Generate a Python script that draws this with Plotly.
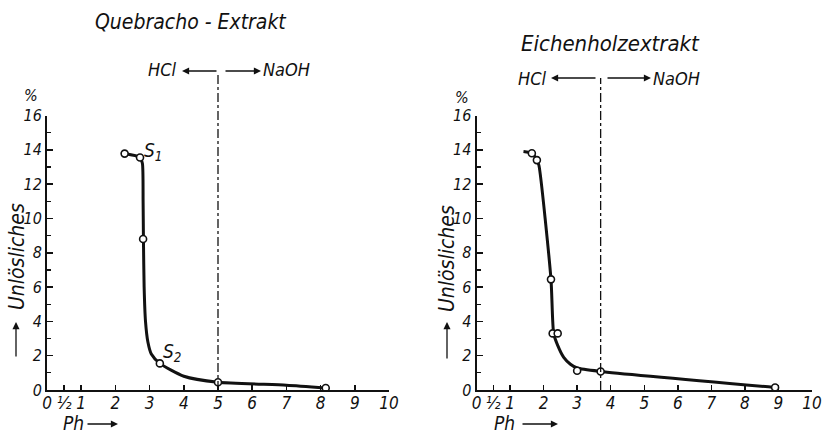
import plotly.graph_objects as go

# ---------------- data ----------------
quebracho_curve_ph = [2.27, 2.72, 2.79, 2.81, 2.82, 2.84, 2.88, 2.95, 3.05, 3.30, 4.0, 5.0, 7.0, 8.15]
quebracho_curve_pct = [13.78, 13.55, 13.2, 11.0, 8.8, 6.0, 4.0, 2.8, 2.1, 1.55, 0.8, 0.45, 0.28, 0.12]
quebracho_pts_ph = [2.27, 2.72, 2.81, 3.30, 5.0, 8.15]
quebracho_pts_pct = [13.78, 13.55, 8.8, 1.55, 0.45, 0.12]
quebracho_neutral_ph = 5.0

# Eichenholzextrakt
eiche_curve_ph = [1.40, 1.65, 1.80, 1.86, 2.22, 2.30, 2.42, 2.6, 2.8, 3.0, 3.7, 8.9]
eiche_curve_pct = [13.9, 13.8, 13.4, 13.1, 6.45, 3.3, 2.6, 1.9, 1.5, 1.28, 1.08, 0.15]
eiche_pts_ph = [1.65, 1.80, 2.22, 2.27, 2.42, 3.0, 3.7, 8.9]
eiche_pts_pct = [13.8, 13.4, 6.45, 3.3, 3.3, 1.12, 1.08, 0.15]
eiche_neutral_ph = 3.7

x_tickvals = [0, 0.5, 1, 2, 3, 4, 5, 6, 7, 8, 9, 10]
x_ticktext = ["0", "½", "1", "2", "3", "4", "5", "6", "7", "8", "9", "10"]
y_tickvals = [0, 2, 4, 6, 8, 10, 12, 14, 16]

# ---------------- layout helpers ----------------
W, H = 822, 433
def px(x):
    return x / W
def py(y):
    return 1 - y / H

FONT = "DejaVu Sans Condensed, DejaVu Sans, sans-serif"
BLACK = "#111111"

fig = go.Figure()

def add_panel(cx, cy, mx, my, xa, ya):
    fig.add_trace(go.Scatter(x=cx, y=cy, mode="lines", line=dict(color=BLACK, width=3, shape="spline", smoothing=0.6),
                             xaxis=xa, yaxis=ya, hoverinfo="skip", showlegend=False))
    fig.add_trace(go.Scatter(x=mx, y=my, mode="markers",
                             marker=dict(symbol="circle", size=7, color="white", line=dict(color=BLACK, width=1.6)),
                             xaxis=xa, yaxis=ya, showlegend=False))

add_panel(quebracho_curve_ph, quebracho_curve_pct, quebracho_pts_ph, quebracho_pts_pct, "x", "y")
add_panel(eiche_curve_ph, eiche_curve_pct, eiche_pts_ph, eiche_pts_pct, "x2", "y2")

tickfont_x = dict(family=FONT, size=17, color=BLACK, style="italic")
tickfont_y = dict(family=FONT, size=16, color=BLACK, style="italic")

def xaxis(domain, anchor):
    return dict(domain=domain, anchor=anchor, range=[0, 10], tickmode="array", tickvals=x_tickvals,
                ticktext=x_ticktext, ticks="inside", ticklen=5, tickwidth=1.5, tickcolor=BLACK,
                showline=True, linecolor=BLACK, linewidth=2, showgrid=False, zeroline=False,
                tickfont=tickfont_x, fixedrange=True, automargin=False, ticklabelstandoff=-3,
                ticklabeloverflow="allow")

def yaxis(domain, anchor):
    return dict(domain=domain, anchor=anchor, range=[0, 16], tickmode="array", tickvals=y_tickvals,
                ticks="inside", ticklen=6, tickwidth=1.5, tickcolor=BLACK,
                minor=dict(dtick=1, tick0=0, ticks="inside", ticklen=4, tickwidth=1.2, tickcolor=BLACK),
                showline=True, linecolor=BLACK, linewidth=2, showgrid=False, zeroline=False,
                tickfont=tickfont_y, fixedrange=True, automargin=False)

ydom = [py(390), py(115.5)]
fig.update_layout(
    width=W, height=H, margin=dict(l=0, r=0, t=0, b=0, pad=0), autosize=False,
    paper_bgcolor="white", plot_bgcolor="white", showlegend=False,
    xaxis=xaxis([px(47), px(389)], "y"),
    yaxis=yaxis(ydom, "x"),
    xaxis2=xaxis([px(476.5), px(812)], "y2"),
    yaxis2=yaxis(ydom, "x2"),
)

# neutral (dash-dot) lines
for xr, xv, ytop in [("x", quebracho_neutral_ph, 72), ("x2", eiche_neutral_ph, 78)]:
    fig.add_shape(type="line", xref=xr, yref="paper", x0=xv, x1=xv, y0=ydom[0], y1=py(ytop),
                  line=dict(color=BLACK, width=1.3, dash="dashdot"))

ann = []
def text(x, y, s, size=16, xanchor="center", angle=0):
    ann.append(dict(x=px(x), y=py(y), xref="paper", yref="paper", text=s, showarrow=False,
                    xanchor=xanchor, yanchor="middle", textangle=angle,
                    font=dict(family=FONT, size=size, color=BLACK, style="italic")))
def arrow(x_head, y_head, x_tail, y_tail):
    ann.append(dict(x=px(x_head), y=py(y_head), xref="paper", yref="paper", text="", showarrow=True,
                    ax=x_tail - x_head, ay=y_tail - y_head, axref="pixel", ayref="pixel",
                    arrowhead=2, arrowsize=1.1, arrowwidth=1.3, arrowcolor=BLACK))

# titles
text(190, 22, "Quebracho - Extrakt", size=21)
text(610, 43, "Eichenholzextrakt", size=22)
# HCl / NaOH
text(178, 70, "HCl", size=18, xanchor="right")
arrow(182, 71, 218, 71)
arrow(261, 71, 224, 71)
text(261, 70, "NaOH", size=18, xanchor="left")
text(548, 78, "HCl", size=18, xanchor="right")
arrow(551, 78, 597, 78)
arrow(651, 78, 606, 78)
text(651, 78, "NaOH", size=18, xanchor="left")
# y titles
text(17, 257, "Unlösliches", size=21, angle=-90)
arrow(16, 322, 16, 358)
text(31, 96, "%", size=16)
text(447, 258, "Unlösliches", size=21, angle=-90)
arrow(447, 322, 447, 360)
text(462, 97, "%", size=16)
# x titles
text(61, 423, "Ph", size=19, xanchor="left")
arrow(118, 424, 86, 424)
text(492, 423, "Ph", size=19, xanchor="left")
arrow(558, 424, 521, 424)

# S1 / S2 labels (data coordinates)
for xr, yr, xv, yv, s in [("x", "y", 3.1, 13.9, "S<sub>1</sub>"), ("x", "y", 3.65, 2.2, "S<sub>2</sub>")]:
    ann.append(dict(x=xv, y=yv, xref=xr, yref=yr, text=s, showarrow=False,
                    font=dict(family=FONT, size=19, color=BLACK, style="italic")))

fig.update_layout(annotations=ann)
fig.write_html("out.html", config={"displayModeBar": False, "staticPlot": True},
               post_script="document.body.style.margin='0';document.body.style.overflow='hidden';")
